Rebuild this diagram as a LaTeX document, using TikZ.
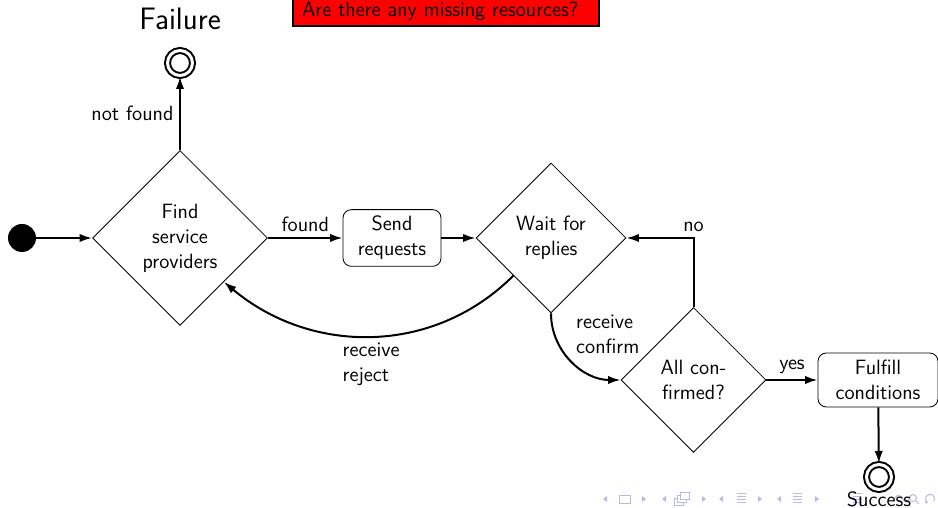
\documentclass[tikz,border=0pt]{standalone}
\usetikzlibrary{shapes.geometric,arrows.meta,positioning}
\renewcommand{\familydefault}{\sfdefault}
\definecolor{navgray}{RGB}{185,185,225}
\begin{document}
\begin{tikzpicture}[x=0.6pt,y=0.6pt,
  font=\fontsize{12.4}{15}\selectfont,
  flow/.style={-{Latex[length=7.5pt,width=5pt]}, line width=1.2pt},
  decision/.style={diamond, aspect=1, draw, line width=0.5pt, align=center, inner sep=0pt},
  activity/.style={rectangle, rounded corners=5pt, draw, line width=0.5pt, align=center, inner sep=0pt},
  initial/.style={circle, fill=black, minimum size=16.8pt, inner sep=0pt},
  final/.style={circle, draw, double, double distance=1.8pt, line width=1.2pt, minimum size=15pt, inner sep=0pt}]
  \useasboundingbox (0,0) rectangle (938,508);
  % Question box (cut at the top)
  \node[draw, fill=red, line width=1.2pt, anchor=south west, text width=172.8pt, align=left,
        inner xsep=5.4pt, inner ysep=3.2pt] (question) at (292,481) {Are there any missing resources?};
  % States
  \node[initial] (start) at (22,270) {};
  \node[decision, minimum size=105pt] (find) at (180,270) {Find\\service\\providers};
  \node[final] (failure) at (180,445) {};
  \node[font=\fontsize{18.6}{22}\selectfont] (failurelbl) at (180,489) {Failure};
  \node[activity, minimum width=58.8pt, minimum height=34pt] (send) at (392,270) {Send\\requests};
  \node[decision, minimum size=90pt] (wait) at (551,270) {Wait for\\replies};
  \node[decision, minimum size=87pt] (allconf) at (693.5,128) {All con-\\firmed?};
  \node[activity, minimum width=72pt, minimum height=32.4pt] (fulfill) at (878,128) {Fulfill\\conditions};
  % Navigation symbols
  \foreach \l/\r in {603/642, 662/702, 719/758, 777/815} {
    \fill[navgray] (\l,9) -- ++(4,3) -- ++(0,-6) -- cycle;
    \fill[navgray] (\r+4,9) -- ++(-4,3) -- ++(0,-6) -- cycle;
  }
  \draw[navgray, line width=0.5pt] (619,5) rectangle (630,13);
  \draw[navgray, line width=0.5pt, fill=white] (674,3) rectangle (683,10);
  \draw[navgray, line width=0.5pt, fill=white] (677,6) rectangle (686,13);
  \draw[navgray, line width=0.5pt, fill=white] (680,9) rectangle (689,16);
  \foreach \x in {737,793,853} {
    \foreach \y in {5,8,11,14}
      \draw[navgray, line width=0.6pt] (\x,\y) -- (\x+9,\y);
  }
  \draw[navgray, line width=0.6pt] (893,7) .. controls (896,14) and (900,14) .. (903,9)
    .. controls (905,5) and (907,5) .. (909,9);
  \draw[navgray, line width=0.6pt] (913,10) circle (3.5) (915.5,7.5) -- (919,4);
  \draw[navgray, line width=0.6pt, -{Latex[length=2pt]}] (934,7) arc (-30:250:4.5);
  \node[final] (success) at (879,31) {};
  \node (successlbl) at (879,9) {Success};
  % Transitions
  \draw[flow] (start) -- (find);
  \draw[flow] (find) -- node[left] {not found} (failure);
  \draw[flow] (find) -- node[above] {found} (send);
  \draw[flow] (send) -- (wait);
  \draw[flow] (wait.south west) to[out=225,in=-40]
    node[below, align=left] {receive\\reject} (find.south east);
  \draw[flow] (wait.south) to[out=-90,in=180]
    node[pos=0.2, right=9pt, align=left] {receive\\confirm} (allconf.west);
  \draw[flow] (allconf.north) |- node[above] {no} (wait.east);
  \draw[flow] (allconf) -- node[above] {yes} (fulfill);
  \draw[flow] (fulfill) -- (success);
\end{tikzpicture}
\end{document}
